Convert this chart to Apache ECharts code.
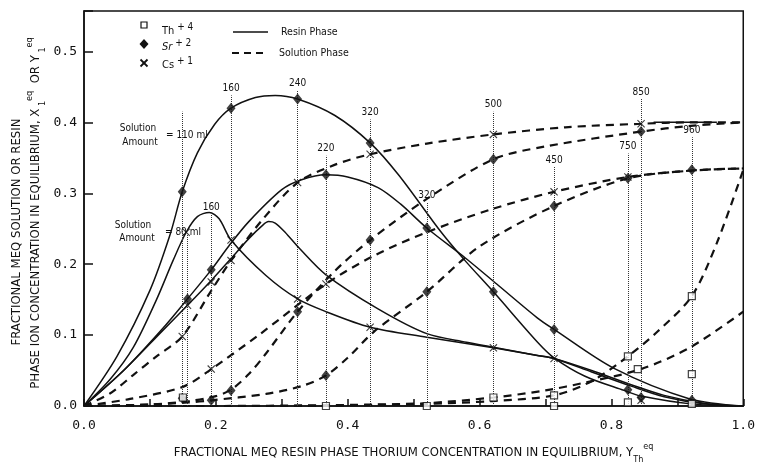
<!DOCTYPE html>
<html>
<head>
<meta charset="utf-8">
<title>Fractional MEQ vs resin phase thorium</title>
<script src="https://cdn.jsdelivr.net/npm/echarts@6/dist/echarts.min.js"></script>
<style>
  html, body { margin: 0; padding: 0; background: #fff; }
  #main { width: 758px; height: 469px; }
</style>
</head>
<body>
<div id="main"></div>
<script>
// resin phase (solid)
var srResinA = [[0,0],[0.05,0.07],[0.1,0.163],[0.13,0.24],[0.149,0.302],[0.172,0.357],[0.198,0.397],[0.223,0.42],[0.26,0.435],[0.29,0.438],[0.324,0.433],[0.38,0.41],[0.434,0.371],[0.477,0.326],[0.541,0.246],[0.578,0.205],[0.621,0.161],[0.688,0.09],[0.713,0.068],[0.76,0.042],[0.819,0.022],[0.845,0.014],[0.92,0.003],[1,0]];
var srResinB = [[0,0],[0.06,0.05],[0.12,0.11],[0.157,0.151],[0.193,0.192],[0.22,0.226],[0.25,0.26],[0.3,0.305],[0.33,0.319],[0.367,0.326],[0.4,0.323],[0.446,0.308],[0.48,0.285],[0.52,0.251],[0.578,0.209],[0.626,0.172],[0.688,0.124],[0.713,0.108],[0.804,0.053],[0.919,0.01],[1,0]];
var csResinA = [[0,0],[0.04,0.038],[0.075,0.083],[0.11,0.15],[0.135,0.205],[0.155,0.245],[0.172,0.267],[0.19,0.273],[0.205,0.264],[0.223,0.234],[0.276,0.184],[0.324,0.151],[0.367,0.133],[0.434,0.111],[0.52,0.097],[0.621,0.082],[0.69,0.071],[0.713,0.067],[0.77,0.048],[0.83,0.028],[0.88,0.013],[0.94,0.003],[1,0]];
var csResinB = [[0,0],[0.06,0.05],[0.12,0.107],[0.157,0.142],[0.193,0.177],[0.222,0.207],[0.25,0.236],[0.27,0.254],[0.28,0.26],[0.29,0.258],[0.305,0.245],[0.327,0.222],[0.367,0.185],[0.446,0.137],[0.52,0.102],[0.58,0.09],[0.621,0.083],[0.69,0.071],[0.713,0.067],[0.77,0.05],[0.83,0.03],[0.88,0.015],[0.94,0.004],[1,0]];
// solution phase (dashed)
var csSolnA = [[0,0],[0.04,0.018],[0.075,0.044],[0.11,0.07],[0.149,0.098],[0.19,0.158],[0.223,0.205],[0.27,0.262],[0.324,0.315],[0.38,0.34],[0.434,0.355],[0.52,0.37],[0.621,0.383],[0.73,0.393],[0.845,0.398],[0.92,0.4],[1,0.4]];
var srSolnA = [[0,0],[0.1,0.002],[0.16,0.007],[0.2,0.014],[0.223,0.023],[0.25,0.045],[0.276,0.074],[0.324,0.133],[0.38,0.19],[0.434,0.234],[0.52,0.292],[0.621,0.348],[0.7,0.366],[0.845,0.387],[0.92,0.395],[1,0.4]];
var csSolnB = [[0,0],[0.07,0.01],[0.15,0.027],[0.193,0.052],[0.265,0.1],[0.367,0.172],[0.44,0.212],[0.52,0.245],[0.62,0.278],[0.713,0.302],[0.825,0.323],[0.922,0.332],[1,0.335]];
var srSolnB = [[0,0],[0.1,0.002],[0.157,0.005],[0.193,0.008],[0.276,0.017],[0.33,0.028],[0.367,0.043],[0.4,0.068],[0.44,0.105],[0.52,0.161],[0.6,0.225],[0.713,0.282],[0.825,0.321],[0.922,0.332],[1,0.335]];
var thSolnA = [[0,0],[0.2,0],[0.36,0.001],[0.434,0.002],[0.52,0.004],[0.621,0.012],[0.7,0.022],[0.76,0.033],[0.845,0.052],[0.92,0.083],[1,0.133]];
var thSolnB = [[0,0],[0.3,0],[0.52,0.003],[0.62,0.007],[0.713,0.015],[0.77,0.035],[0.825,0.07],[0.87,0.105],[0.922,0.155],[0.96,0.23],[1,0.333]];
// short solid piece riding on the 0.40 plateau
var plateauSeg = [[0.864,0.4],[0.96,0.4]];

// measured points
var srPoints = [[0.149,0.302],[0.223,0.42],[0.324,0.433],[0.434,0.371],[0.621,0.161],[0.845,0.012],
  [0.157,0.151],[0.193,0.192],[0.367,0.326],[0.52,0.251],[0.713,0.108],[0.825,0.023],[0.922,0.008],
  [0.149,0.011],[0.223,0.022],[0.324,0.133],[0.434,0.234],[0.621,0.348],[0.845,0.387],
  [0.193,0.008],[0.367,0.043],[0.52,0.161],[0.713,0.282],[0.825,0.321],[0.922,0.333]];
var csPoints = [[0.155,0.245],[0.223,0.234],[0.324,0.151],[0.434,0.111],[0.621,0.082],
  [0.157,0.142],[0.193,0.175],[0.713,0.067],
  [0.149,0.098],[0.223,0.205],[0.324,0.315],[0.434,0.355],[0.621,0.383],[0.845,0.398],
  [0.193,0.052],[0.367,0.172],[0.713,0.302],[0.825,0.323],[0.845,0.008]];
var thPoints = [[0.15,0.012],[0.367,0],[0.52,0],[0.621,0.012],[0.713,0.015],[0.713,0],[0.825,0.07],[0.825,0.005],
  [0.84,0.052],[0.922,0.155],[0.922,0.045],[0.922,0.003]];

// solution amount drop lines
var dropX = [0.149,0.223,0.324,0.434,0.621,0.845,0.157,0.193,0.367,0.52,0.713,0.825,0.922];
var dropTop = [0.415,0.438,0.445,0.404,0.415,0.433,0.243,0.27,0.353,0.287,0.337,0.356,0.379];
var dropLabel = ['','160','240','320','500','850','','160','220','320','450','750','960'];

var xTicks = [0, 0.2, 0.4, 0.6, 0.8, 1.0];

var ink = '#111';
var cond = '"DejaVu Sans Condensed", "Liberation Sans Narrow", "DejaVu Sans", sans-serif';
var mono = '"DejaVu Sans Mono", "Liberation Mono", monospace';

function curve(name, data, dashed) {
  return {
    name: name,
    type: 'line',
    data: data,
    smooth: 0.3,
    showSymbol: false,
    silent: true,
    z: 3,
    lineStyle: {
      color: ink,
      width: dashed ? 2.2 : 1.5,
      type: dashed ? [8, 6] : 'solid'
    }
  };
}

function points(name, data, symbol, size, hollow) {
  return {
    name: name,
    type: 'scatter',
    data: data,
    symbol: symbol,
    symbolSize: size,
    silent: true,
    z: 5,
    itemStyle: hollow ? { color: '#fff', borderColor: ink, borderWidth: 1.2 } : { color: ink }
  };
}

var xMark = 'path://M0,1L1,0L5,4L9,0L10,1L6,5L10,9L9,10L5,6L1,10L0,9L4,5Z';

var series = [
  curve('Sr resin A', srResinA, false),
  curve('Sr resin B', srResinB, false),
  curve('Cs resin A', csResinA, false),
  curve('Cs resin B', csResinB, false),
  curve('Cs solution A', csSolnA, true),
  curve('Sr solution A', srSolnA, true),
  curve('Cs solution B', csSolnB, true),
  curve('Sr solution B', srSolnB, true),
  curve('Th solution A', thSolnA, true),
  curve('Th solution B', thSolnB, true),
  curve('plateau', plateauSeg, false),
  points('Sr', srPoints, 'diamond', [9, 11], false),
  points('Cs', csPoints, xMark, 8, false),
  points('Th', thPoints, 'rect', 7, true)
];

// dotted verticals with solution amount labels
series[0].markLine = {
  silent: true,
  symbol: 'none',
  lineStyle: { type: 'dotted', color: '#333', width: 1 },
  label: { show: true, position: 'end', distance: 2, formatter: '{b}', color: ink, fontSize: 10, fontFamily: cond },
  data: dropX.map(function (x, i) {
    return [{ coord: [x, 0], name: dropLabel[i] }, { coord: [x, dropTop[i]], name: dropLabel[i] }];
  })
};

var subSup = {
  t: { fontSize: 13, fontFamily: cond, color: ink, fill: ink, lineHeight: 22 },
  sub: { fontSize: 9, fontFamily: cond, color: ink, fill: ink, lineHeight: 22, verticalAlign: 'bottom' },
  sup: { fontSize: 9, fontFamily: cond, color: ink, fill: ink, lineHeight: 9, verticalAlign: 'top' }
};

var chart = echarts.init(document.getElementById('main'));
chart.setOption({
  animation: false,
  backgroundColor: '#fff',
  grid: { left: 84, right: 11, top: 11, bottom: 52, show: true, borderColor: ink, borderWidth: 1.5 },
  xAxis: {
    type: 'value',
    min: 0,
    max: 1,
    interval: 0.1,
    axisLine: { lineStyle: { color: ink, width: 1.5 } },
    axisTick: { inside: true, length: 7, lineStyle: { color: ink, width: 1.5 } },
    splitLine: { show: false },
    axisLabel: {
      margin: 13,
      color: ink,
      fontSize: 13,
      fontFamily: mono,
      formatter: function (v) {
        var hit = xTicks.some(function (t) { return Math.abs(t - v) < 1e-6; });
        return hit ? v.toFixed(1) : '';
      }
    },
    name: '{t|FRACTIONAL MEQ RESIN PHASE THORIUM CONCENTRATION IN EQUILIBRIUM, Y}{sub|Th}{sup|eq}',
    nameLocation: 'middle',
    nameGap: 36,
    nameTextStyle: { rich: subSup }
  },
  yAxis: {
    type: 'value',
    min: 0,
    max: 0.557,
    interval: 0.1,
    axisLine: { show: true, lineStyle: { color: ink, width: 1.5 } },
    axisTick: { show: true, inside: true, length: 9, lineStyle: { color: ink, width: 1.5 } },
    splitLine: { show: false },
    axisLabel: {
      margin: 7,
      color: ink,
      fontSize: 13,
      fontFamily: mono,
      formatter: function (v) {
        return Math.abs(v * 10 - Math.round(v * 10)) < 1e-6 ? v.toFixed(1) : '';
      }
    }
  },
  series: series,
  graphic: [
    // y axis title, two rotated lines
    {
      type: 'text', x: 17, y: 232, rotation: Math.PI / 2,
      style: { text: 'FRACTIONAL MEQ SOLUTION OR RESIN', fill: ink, font: '13px ' + cond, align: 'center', verticalAlign: 'middle' }
    },
    {
      type: 'text', x: 36, y: 213, rotation: Math.PI / 2,
      style: {
        text: '{t|PHASE ION CONCENTRATION IN EQUILIBRIUM, X}{sub| 1}{sup|eq}{t|  OR Y}{sub| 1}{sup|eq}',
        align: 'center', verticalAlign: 'middle',
        rich: subSup
      }
    },
    // legend
    { type: 'rect', shape: { x: 141, y: 22, width: 6, height: 6 }, style: { fill: '#fff', stroke: ink, lineWidth: 1.2 } },
    { type: 'polygon', shape: { points: [[144, 39], [148.5, 44], [144, 49], [139.5, 44]] }, style: { fill: ink } },
    { type: 'line', shape: { x1: 140.5, y1: 59.5, x2: 147.5, y2: 66.5 }, style: { stroke: ink, lineWidth: 1.8 } },
    { type: 'line', shape: { x1: 147.5, y1: 59.5, x2: 140.5, y2: 66.5 }, style: { stroke: ink, lineWidth: 1.8 } },
    {
      type: 'text', x: 162, y: 31,
      style: { text: '{n|Th}{s| + 4}', verticalAlign: 'middle', rich: { n: { fontSize: 11, fontFamily: cond, fill: ink, lineHeight: 18 }, s: { fontSize: 10, fontFamily: cond, fill: ink, lineHeight: 10, verticalAlign: 'top' } } }
    },
    {
      type: 'text', x: 162, y: 47,
      style: { text: '{n|Sr}{s| + 2}', verticalAlign: 'middle', rich: { n: { fontSize: 11, fontFamily: cond, fontStyle: 'italic', fill: ink, lineHeight: 18 }, s: { fontSize: 10, fontFamily: cond, fill: ink, lineHeight: 10, verticalAlign: 'top' } } }
    },
    {
      type: 'text', x: 162, y: 65,
      style: { text: '{n|Cs}{s| + 1}', verticalAlign: 'middle', rich: { n: { fontSize: 11, fontFamily: cond, fill: ink, lineHeight: 18 }, s: { fontSize: 10, fontFamily: cond, fill: ink, lineHeight: 10, verticalAlign: 'top' } } }
    },
    { type: 'line', shape: { x1: 233, y1: 32, x2: 268, y2: 32 }, style: { stroke: ink, lineWidth: 1.5 } },
    { type: 'text', x: 281, y: 32, style: { text: 'Resin Phase', fill: ink, font: '10.5px ' + cond, verticalAlign: 'middle' } },
    { type: 'line', shape: { x1: 232, y1: 53, x2: 268, y2: 53 }, style: { stroke: ink, lineWidth: 2, lineDash: [7, 5] } },
    { type: 'text', x: 279, y: 53, style: { text: 'Solution Phase', fill: ink, font: '10.5px ' + cond, verticalAlign: 'middle' } },
    // solution amount notes
    { type: 'text', x: 138, y: 128, style: { text: 'Solution', fill: ink, font: '10px ' + cond, align: 'center', verticalAlign: 'middle' } },
    { type: 'text', x: 140, y: 142, style: { text: 'Amount', fill: ink, font: '10px ' + cond, align: 'center', verticalAlign: 'middle' } },
    { type: 'text', x: 166, y: 135, style: { text: '= 110 ml', fill: ink, font: '10px ' + cond, verticalAlign: 'middle' } },
    { type: 'text', x: 133, y: 225, style: { text: 'Solution', fill: ink, font: '10px ' + cond, align: 'center', verticalAlign: 'middle' } },
    { type: 'text', x: 137, y: 238, style: { text: 'Amount', fill: ink, font: '10px ' + cond, align: 'center', verticalAlign: 'middle' } },
    { type: 'text', x: 165, y: 232, style: { text: '= 80 ml', fill: ink, font: '10px ' + cond, verticalAlign: 'middle' } }
  ]
});
</script>
</body>
</html>
